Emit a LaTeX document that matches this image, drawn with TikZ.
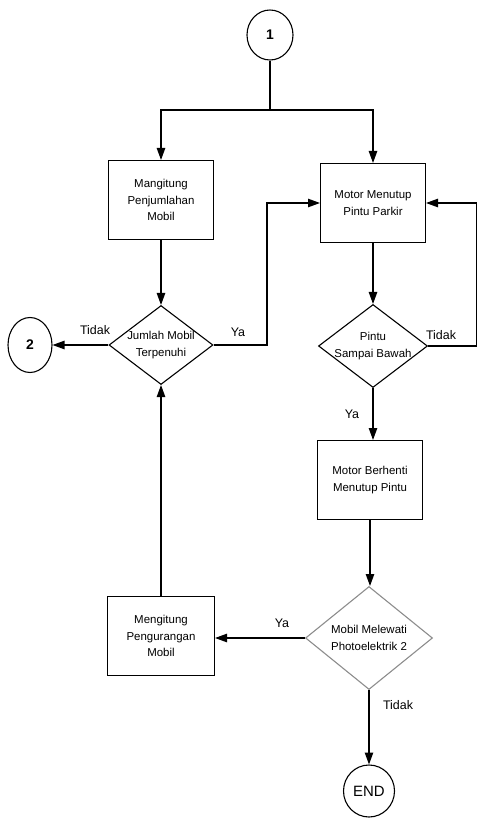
\documentclass[tikz,border=0pt]{standalone}
\usepackage{fontspec}
\setmainfont{Liberation Sans}
\usetikzlibrary{shapes.geometric,arrows.meta}
\begin{document}
\begin{tikzpicture}[x=1bp,y=-1bp,
  line width=1.1pt,
  arr/.style={-{Triangle[length=12pt,width=8.5pt]}},
  txt/.style={font=\fontsize{11.5}{16.5}\selectfont, align=center},
  boxnode/.style={draw, rectangle, minimum width=105bp, minimum height=79bp, txt, inner sep=0pt},
  dia/.style={draw, diamond, inner sep=0pt},
  conn/.style={draw, ellipse, inner sep=0pt, font=\fontsize{14}{16}\selectfont\bfseries},
  lab/.style={font=\fontsize{12.5}{14}\selectfont, inner sep=0pt}
]
\useasboundingbox (0,0) rectangle (477,818);

% nodes
\node[conn, minimum width=46bp, minimum height=50bp] (c1) at (270,35) {1};
\node[boxnode] (bL1) at (161,200) {Mangitung\\Penjumlahan\\Mobil};
\node[boxnode] (bR1) at (373,203) {Motor Menutup\\Pintu Parkir};
\node[dia, minimum width=104bp, minimum height=79bp] (dL) at (161,345) {};
\node[txt] (dLt) at (161,345) {Jumlah Mobil\\Terpenuhi};
\node[conn, minimum width=44bp, minimum height=55bp] (c2) at (30,345) {2};
\node[dia, minimum width=109bp, minimum height=83bp] (dR) at (373,346) {};
\node[txt] (dRt) at (373,346) {Pintu\\Sampai Bawah};
\node[boxnode] (bR2) at (370,480) {Motor Berhenti\\Menutup Pintu};
\node[dia, draw=black!45, minimum width=127bp, minimum height=103bp] (dR2) at (369,638) {};
\node[txt] (dR2t) at (369,638) {Mobil Melewati\\Photoelektrik 2};
\node[boxnode, minimum width=107bp] (bL2) at (161,636) {Mengitung\\Pengurangan\\Mobil};
\node[draw, ellipse, inner sep=0pt, minimum width=51bp, minimum height=52bp, font=\fontsize{15}{17}\selectfont] (end) at (369,791) {END};

\coordinate (j1) at (270,110);
\coordinate (kL) at (267,345);
\coordinate (kR) at (476.5,346);

% connectors
\draw (c1.south) -- (j1);
\draw[arr] (j1) -| (bL1.north);
\draw[arr] (j1) -| (bR1.north);
\draw[arr] (bL1.south) -- (dL.north);
\draw[arr] (dL.west) -- (c2.east);
\draw[arr] (dL.east) -- (kL) |- (bR1.west);
\draw[arr] (bR1.south) -- (dR.north);
\draw[arr] (dR.east) -- (kR) |- (bR1.east);
\draw[arr] (dR.south) -- (dR.south |- bR2.north);
\draw[arr] (bR2.south) -- (bR2.south |- dR2.north);
\draw[arr] (dR2.west) -- (dR2.west -| bL2.east);
\draw[arr] (bL2.north) -- (dL.south);
\draw[arr] (dR2.south) -- (end.north);

% labels
\node[lab] (t1) at (95,330) {Tidak};
\node[lab] (y1) at (238,332) {Ya};
\node[lab] (t2) at (441,335) {Tidak};
\node[lab] (y2) at (352,414) {Ya};
\node[lab] (y3) at (282,623) {Ya};
\node[lab] (t3) at (398,705) {Tidak};
\end{tikzpicture}
\end{document}
